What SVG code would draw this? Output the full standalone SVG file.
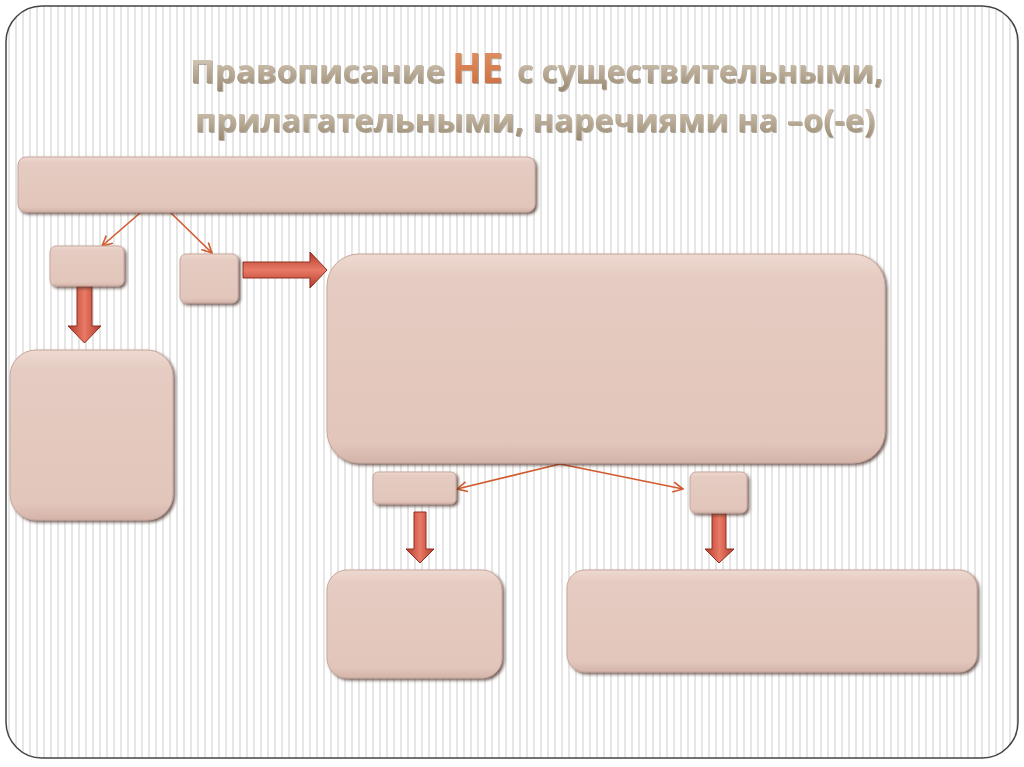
<svg xmlns="http://www.w3.org/2000/svg" width="1024" height="767" viewBox="0 0 1024 767">
  <defs>
    <pattern id="stripes" x="0" y="0" width="7" height="10" patternUnits="userSpaceOnUse">
      <rect x="0" y="0" width="7" height="10" fill="#ffffff"/>
      <rect x="1" y="0" width="2" height="10" fill="#e6e6e6"/>
    </pattern>
    <linearGradient id="boxFill" x1="0" y1="0" x2="0" y2="1">
      <stop offset="0" stop-color="#eed9d0"/>
      <stop offset="0.12" stop-color="#e5cbc1"/>
      <stop offset="0.9" stop-color="#e2c6bc"/>
      <stop offset="1" stop-color="#d4b4a9"/>
    </linearGradient>
    <linearGradient id="titleFill" x1="0" y1="0" x2="0" y2="1">
      <stop offset="0" stop-color="#e6dfd2"/>
      <stop offset="0.5" stop-color="#bcae98"/>
      <stop offset="1" stop-color="#96866f"/>
    </linearGradient>
    <linearGradient id="neFill" x1="0" y1="0" x2="0" y2="1">
      <stop offset="0" stop-color="#e69a6c"/>
      <stop offset="1" stop-color="#c8683a"/>
    </linearGradient>
    <linearGradient id="arrowV" x1="0" y1="0" x2="1" y2="0">
      <stop offset="0" stop-color="#b03a2a"/>
      <stop offset="0.5" stop-color="#e97a66"/>
      <stop offset="1" stop-color="#b03a2a"/>
    </linearGradient>
    <linearGradient id="arrowH" x1="0" y1="0" x2="0" y2="1">
      <stop offset="0" stop-color="#b03a2a"/>
      <stop offset="0.5" stop-color="#e97a66"/>
      <stop offset="1" stop-color="#b03a2a"/>
    </linearGradient>
    <filter id="bevel" x="-10%" y="-10%" width="120%" height="130%">
      <feGaussianBlur in="SourceAlpha" stdDeviation="1.5"/>
      <feOffset dx="1.5" dy="2" result="off"/>
      <feFlood flood-color="#4a3028" flood-opacity="0.75"/>
      <feComposite in2="off" operator="in" result="shadow"/>
      <feMerge>
        <feMergeNode in="shadow"/>
        <feMergeNode in="SourceGraphic"/>
      </feMerge>
    </filter>
    <filter id="tshadow" x="-5%" y="-20%" width="110%" height="140%">
      <feGaussianBlur in="SourceAlpha" stdDeviation="0.7"/>
      <feOffset dx="0.8" dy="1.2" result="off"/>
      <feFlood flood-color="#6b5a48" flood-opacity="0.5"/>
      <feComposite in2="off" operator="in" result="shadow"/>
      <feMerge>
        <feMergeNode in="shadow"/>
        <feMergeNode in="SourceGraphic"/>
      </feMerge>
    </filter>
    <marker id="open" viewBox="0 0 12 12" refX="11" refY="6" markerWidth="12" markerHeight="12" markerUnits="userSpaceOnUse" orient="auto">
      <path d="M1,1 L11,6 L1,11" fill="none" stroke="#d25a2c" stroke-width="1.6"/>
    </marker>
  </defs>
  <style>
    .box { fill: url(#boxFill); stroke: #c8a79c; stroke-width: 1; filter: url(#bevel); }
    .conn { fill: none; stroke: #d25a2c; stroke-width: 1.6; marker-end: url(#open); }
    .barV { fill: url(#arrowV); stroke: #8f2f1f; stroke-width: 1; }
    .barH { fill: url(#arrowH); stroke: #8f2f1f; stroke-width: 1; }
    .title { font-family: "Open Sans", "Liberation Sans", sans-serif; font-weight: bold; fill: url(#titleFill); filter: url(#tshadow); }
    .ne { font-family: "Open Sans", "Liberation Sans", sans-serif; font-weight: bold; fill: url(#neFill); filter: url(#tshadow); }
  </style>
  <rect x="0" y="0" width="1024" height="767" fill="#ffffff"/>
  <rect id="frame" x="6" y="6" width="1012" height="752" rx="36" ry="36" fill="url(#stripes)" stroke="#444444" stroke-width="1.5"/>

  <g id="title">
    <text class="title" x="190" y="83" font-size="33" textLength="255" lengthAdjust="spacingAndGlyphs">Правописание</text>
    <text class="ne" x="452" y="83" font-size="42" textLength="51" lengthAdjust="spacingAndGlyphs">НЕ</text>
    <text class="title" x="517" y="83" font-size="33" textLength="366" lengthAdjust="spacingAndGlyphs">с существительными,</text>
    <text class="title" x="195" y="132" font-size="33" textLength="680" lengthAdjust="spacingAndGlyphs">прилагательными, наречиями на –о(-е)</text>
  </g>

  <g id="connectors">
    <line class="conn" x1="140" y1="213" x2="102" y2="246"/>
    <line class="conn" x1="171" y1="213" x2="212" y2="253"/>
    <polyline class="conn" points="560,464 457,489"/>
    <polyline class="conn" points="560,464 683,489"/>
    <polygon class="barV" points="77,286 92,286 92,326 101,326 84.5,343 68,326 77,326"/>
    <polygon class="barH" points="243,262 310,262 310,252 327,270 310,288 310,278 243,278"/>
    <polygon class="barV" points="414,512 426,512 426,549 434,549 420,563 406,549 414,549"/>
    <polygon class="barV" points="712,513 726,513 726,549 734,549 719,563 705,549 712,549"/>
  </g>

  <g id="node-top"><rect class="box" x="18" y="157" width="517" height="55" rx="8" ry="8"/></g>
  <g id="node-s1"><rect class="box" x="50" y="246" width="74" height="40" rx="6" ry="6"/></g>
  <g id="node-s2"><rect class="box" x="180" y="254" width="58" height="49" rx="6" ry="6"/></g>
  <g id="node-big"><rect class="box" x="327" y="254" width="558" height="209" rx="32" ry="32"/></g>
  <g id="node-left"><rect class="box" x="10" y="350" width="163" height="170" rx="26" ry="26"/></g>
  <g id="node-s3"><rect class="box" x="373" y="472" width="83" height="32" rx="5" ry="5"/></g>
  <g id="node-s4"><rect class="box" x="690" y="472" width="57" height="41" rx="6" ry="6"/></g>
  <g id="node-bl"><rect class="box" x="327" y="570" width="175" height="108" rx="20" ry="20"/></g>
  <g id="node-br"><rect class="box" x="567" y="570" width="410" height="102" rx="18" ry="18"/></g>
</svg>
